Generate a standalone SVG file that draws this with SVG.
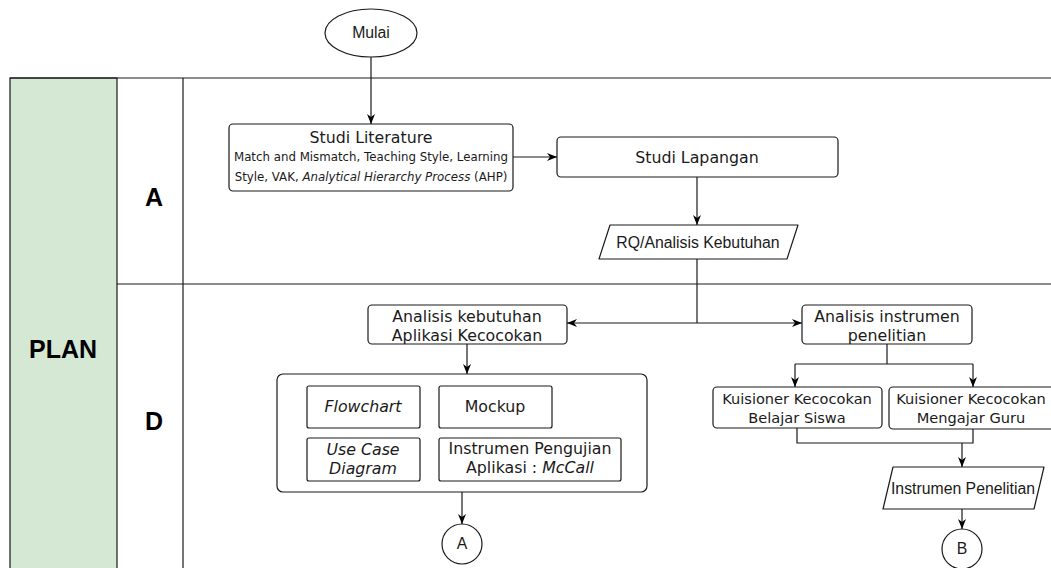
<svg xmlns="http://www.w3.org/2000/svg" width="1051" height="568" viewBox="0 0 1051 568">
<style>
.box{fill:#fff;stroke:#1a1a1a;stroke-width:1.2}
.lane{fill:none;stroke:#1a1a1a;stroke-width:1.2}
.v{font-family:"DejaVu Sans",Verdana,sans-serif;fill:#1a1a1a;text-anchor:middle;font-size:15.8px}
.s{font-size:11.8px}
.k{font-size:14.6px}
.a{font-family:"Liberation Sans",Arial,sans-serif;fill:#1a1a1a;text-anchor:middle;font-size:15.8px}
.b{font-family:"Liberation Sans",Arial,sans-serif;font-weight:bold;fill:#000;text-anchor:middle;font-size:25px}
.c{fill:none;stroke:#1a1a1a;stroke-width:1.2}
</style>
<defs>
<marker id="arr" markerUnits="userSpaceOnUse" markerWidth="11" markerHeight="10" refX="10" refY="5" orient="auto">
<path d="M0,1 L10,5 L0,9 L3,5 z" fill="#000"/>
</marker>
</defs>
<g id="lanes">
<rect x="10" y="78" width="107" height="495" fill="#d5e8d4" stroke="#1a1a1a" stroke-width="1.2"/>
<line class="lane" x1="10" y1="78" x2="1051" y2="78"/>
<line class="lane" x1="117" y1="284" x2="1051" y2="284"/>
<line class="lane" x1="183" y1="78" x2="183" y2="568"/>
<text class="b" x="63" y="358">PLAN</text>
<text class="b" x="154" y="206" font-size="24">A</text>
<text class="b" x="154" y="430" font-size="24">D</text>
</g>
<g id="mulai">
<ellipse class="box" cx="371" cy="33" rx="46" ry="24"/>
<text class="a" x="371" y="38" font-size="15">Mulai</text>
</g>
<g id="studi-literature">
<rect class="box" x="229" y="124" width="284" height="67" rx="4"/>
<text class="v" x="371" y="143">Studi Literature</text>
<text class="v s" x="371" y="161">Match and Mismatch, Teaching Style, Learning</text>
<text class="v s" x="371" y="181">Style, VAK, <tspan font-style="italic">Analytical Hierarchy Process</tspan> (AHP)</text>
</g>
<g id="studi-lapangan">
<rect class="box" x="557" y="137" width="281" height="40" rx="4"/>
<text class="v" x="697" y="163">Studi Lapangan</text>
</g>
<g id="rq">
<path class="box" d="M610,225 L798,225 L787,259 L599,259 Z" stroke-linejoin="round"/>
<text class="a" x="698" y="248">RQ/Analisis Kebutuhan</text>
</g>
<g id="analisis-kebutuhan">
<rect class="box" x="368" y="305" width="199" height="39" rx="4"/>
<text class="v" x="467" y="322">Analisis kebutuhan</text>
<text class="v" x="467" y="341">Aplikasi Kecocokan</text>
</g>
<g id="container">
<rect class="box" x="277" y="374" width="370" height="118" rx="6"/>
</g>
<g id="flowchart">
<rect class="box" x="307" y="386" width="113" height="42" rx="2"/>
<text class="v" x="363" y="412" font-style="italic">Flowchart</text>
</g>
<g id="mockup">
<rect class="box" x="439" y="386" width="113" height="42" rx="2"/>
<text class="v" x="495" y="412">Mockup</text>
</g>
<g id="usecase">
<rect class="box" x="307" y="438" width="113" height="43" rx="2"/>
<text class="v" x="363" y="455" font-style="italic">Use Case</text>
<text class="v" x="363" y="474" font-style="italic">Diagram</text>
</g>
<g id="instrumen-pengujian">
<rect class="box" x="439" y="438" width="182" height="43" rx="2"/>
<text class="v" x="530" y="454">Instrumen Pengujian</text>
<text class="v" x="530" y="473">Aplikasi : <tspan font-style="italic">McCall</tspan></text>
</g>
<g id="conn-a">
<circle class="box" cx="462" cy="544" r="20"/>
<text class="a" x="462" y="549" font-size="15">A</text>
</g>
<g id="analisis-instrumen">
<rect class="box" x="802" y="305" width="170" height="39" rx="4"/>
<text class="v" x="887" y="322">Analisis instrumen</text>
<text class="v" x="887" y="341">penelitian</text>
</g>
<g id="kuisioner-siswa">
<rect class="box" x="713" y="387" width="169" height="41" rx="4"/>
<text class="v k" x="797" y="404">Kuisioner Kecocokan</text>
<text class="v k" x="797" y="423">Belajar Siswa</text>
</g>
<g id="kuisioner-guru">
<rect class="box" x="889" y="387" width="168" height="42" rx="4"/>
<text class="v k" x="971" y="404">Kuisioner Kecocokan</text>
<text class="v k" x="971" y="423">Mengajar Guru</text>
</g>
<g id="instrumen-penelitian">
<path class="box" d="M893,467 L1044,467 L1034,509 L883,509 Z" stroke-linejoin="round"/>
<text class="a" x="963" y="494">Instrumen Penelitian</text>
</g>
<g id="conn-b">
<circle class="box" cx="962" cy="549" r="20"/>
<text class="a" x="962" y="554" font-size="15">B</text>
</g>
<g id="connectors">
<path class="c" d="M371,57 L371,124" marker-end="url(#arr)"/>
<path class="c" d="M513,157 L557,157" marker-end="url(#arr)"/>
<path class="c" d="M697,177 L697,225" marker-end="url(#arr)"/>
<path class="c" d="M697,259 L697,323"/>
<path class="c" d="M697,323 L567,323" marker-end="url(#arr)"/>
<path class="c" d="M697,323 L802,323" marker-end="url(#arr)"/>
<path class="c" d="M467,344 L467,374" marker-end="url(#arr)"/>
<path class="c" d="M462,492 L462,524" marker-end="url(#arr)"/>
<path class="c" d="M887,344 L887,364"/>
<path class="c" d="M795,364 L973,364"/>
<path class="c" d="M795,364 L795,387" marker-end="url(#arr)"/>
<path class="c" d="M973,364 L973,387" marker-end="url(#arr)"/>
<path class="c" d="M797,428 L797,443 L973,443 L973,429"/>
<path class="c" d="M962,443 L962,467" marker-end="url(#arr)"/>
<path class="c" d="M962,509 L962,529" marker-end="url(#arr)"/>
</g>
</svg>
